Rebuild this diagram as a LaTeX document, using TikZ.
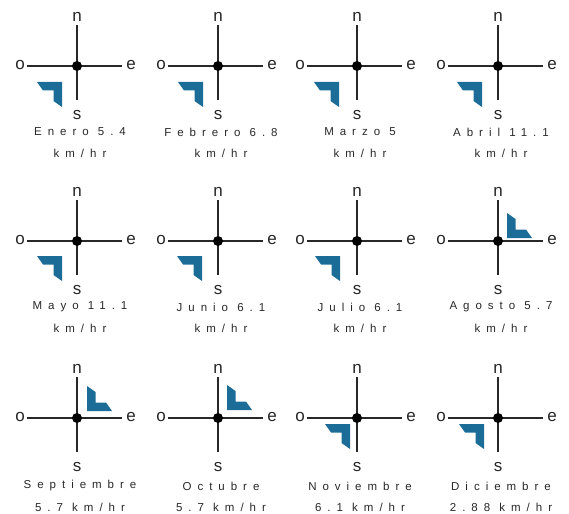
\documentclass[tikz,border=0pt]{standalone}
\usepackage{fontspec}
\setmainfont{Liberation Sans}
\newfontfamily\capfont[LetterSpace=52]{Liberation Sans}
\usetikzlibrary{calc}
\definecolor{chevblue}{RGB}{28,108,152}
\definecolor{axisgray}{RGB}{40,40,40}
\definecolor{captext}{RGB}{40,40,40}
\tikzset{
  axisline/.style={draw=axisgray,line width=1.1pt},
  hubdot/.style={circle,fill=black,inner sep=0pt,minimum size=10pt},
  dirlabel/.style={font=\fontsize{17}{17}\selectfont,text=black!85,inner sep=0pt},
  captxt/.style={font=\capfont\fontsize{11.5}{13}\selectfont,text=captext,inner sep=0pt},
  chev/.style={fill=chevblue}
}
% #1 id, #2 x, #3 y, #4 line 1, #5 line 2, #6 rotation of chevron, #7 chevron corner x, #8 chevron corner y, #9 caption offset
\newcommand{\windpanel}[9]{%
  \begin{scope}[shift={(#2,#3)}]
    \coordinate (W#1) at (-50,0);
    \coordinate (E#1) at (45,0);
    \coordinate (N#1) at (0,-41);
    \coordinate (S#1) at (0,34);
    \draw[axisline] (W#1) -- (E#1);
    \draw[axisline] (N#1) -- (S#1);
    \node[hubdot] (c#1) at (0,0) {};
    \node[dirlabel] (n#1) at (0,-49) {n};
    \node[dirlabel] (o#1) at (-57,-1) {o};
    \node[dirlabel] (e#1) at (54,-1) {e};
    \node[dirlabel] (s#1) at (0,49) {s};
    \node[captxt] (a#1) at (3,#9) {#4};
    \node[captxt] (b#1) at (3,#9+21) {#5};
    \fill[chev,shift={(#7,#8)},rotate=#6] (0,0) -- (-25,0) -- (-19,8.5) -- (-8.5,8.5) -- (-8.5,19) -- (0,25) -- cycle;
  \end{scope}}
\begin{document}
\begin{tikzpicture}[x=1pt,y=-1pt]
\useasboundingbox (0,0) rectangle (569,513);
\fill[white] (0,0) rectangle (569,513);
\windpanel{1}{77}{66}{Enero 5.4}{km/hr}{0}{-15}{16}{66}
\windpanel{2}{218}{66}{Febrero 6.8}{km/hr}{0}{-15}{16}{66}
\windpanel{3}{357}{66}{Marzo 5}{km/hr}{0}{-18}{16}{66}
\windpanel{4}{498}{66}{Abril 11.1}{km/hr}{0}{-16}{16}{66}
\windpanel{5}{77}{241}{Mayo 11.1}{km/hr}{0}{-15}{15}{66}
\windpanel{6}{218}{241}{Junio 6.1}{km/hr}{0}{-16}{15}{66}
\windpanel{7}{357}{241}{Julio 6.1}{km/hr}{0}{-17}{15}{66}
\windpanel{8}{498}{241}{Agosto 5.7}{km/hr}{180}{9}{-3}{66}
\windpanel{9}{77}{418}{Septiembre}{5.7 km/hr}{180}{10}{-7}{68}
\windpanel{10}{218}{418}{Octubre}{5.7 km/hr}{180}{9}{-8}{68}
\windpanel{11}{357}{418}{Noviembre}{6.1 km/hr}{0}{-7}{6}{68}
\windpanel{12}{498}{418}{Diciembre}{2.88 km/hr}{0}{-14}{6}{68}
\end{tikzpicture}
\end{document}
